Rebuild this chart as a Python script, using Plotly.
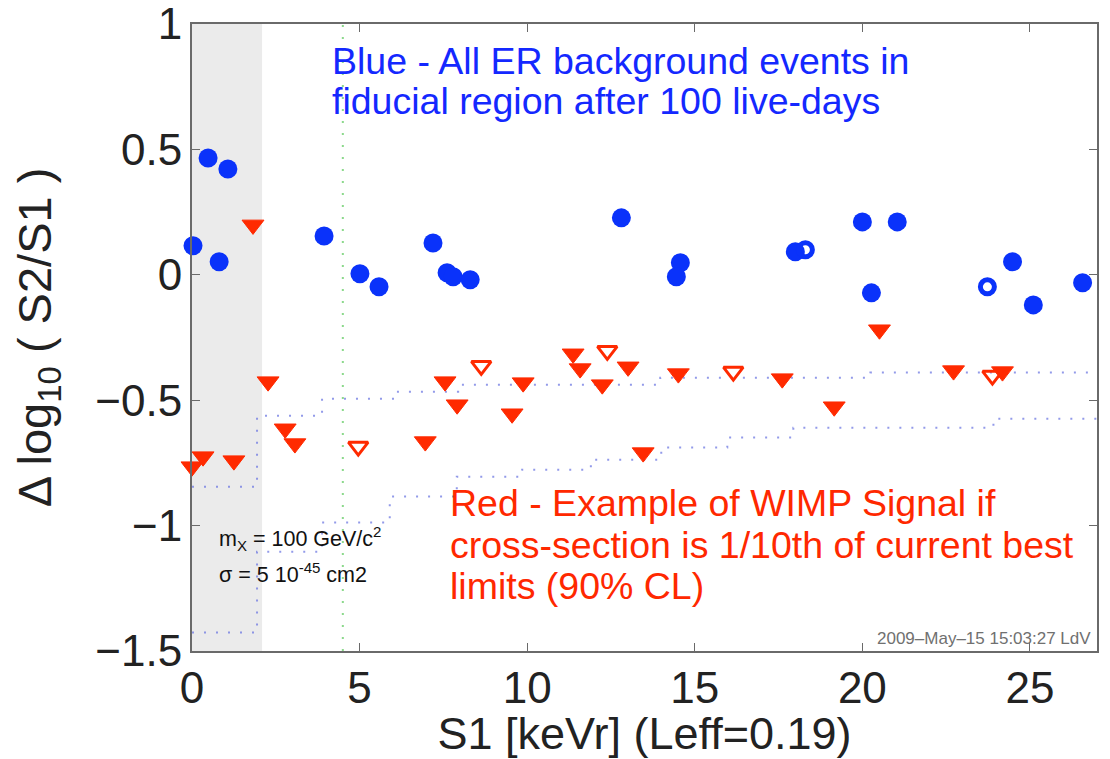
import plotly.graph_objects as go

# ---------------- data ----------------
# ER background events (filled blue circles)
er_x = [0.03, 0.48, 1.07, 0.81, 3.94, 5.01, 5.58, 7.19, 7.61, 7.79, 8.30,
        12.81, 14.57, 14.45, 18.0, 20.0, 21.04, 20.27, 24.48, 25.1, 26.57]
er_y = [0.116, 0.466, 0.422, 0.052, 0.155, 0.004, -0.048, 0.127, 0.008, -0.008, -0.02,
        0.227, 0.048, -0.008, 0.092, 0.211, 0.211, -0.072, 0.052, -0.12, -0.032]
# ER background events (open blue circles)
er_open_x = [18.3, 23.73]
er_open_y = [0.1, -0.048]

# WIMP signal example (filled red triangles)
wimp_x = [1.82, 2.27, 2.78, 3.07, 0.0, 0.33, 1.25, 6.96, 7.55, 7.91, 9.88, 9.55,
          11.37, 11.58, 12.24, 13.01, 13.46, 14.51, 17.61, 20.51, 19.16, 22.72, 24.18]
wimp_y = [0.199, -0.426, -0.614, -0.673, -0.765, -0.725, -0.741, -0.665, -0.426, -0.518,
          -0.430, -0.554, -0.315, -0.374, -0.438, -0.367, -0.709, -0.394, -0.414,
          -0.219, -0.526, -0.382, -0.386]
# WIMP signal example (open red triangles)
wimp_open_x = [4.96, 8.63, 12.39, 16.15, 23.88]
wimp_open_y = [-0.685, -0.363, -0.303, -0.386, -0.402]

# acceptance band edges (step functions)
upper_edges = [0, 1.94, 3.88, 6.06, 7.94, 13.97, 20.24, 27]
upper_levels = [-0.845, -0.562, -0.494, -0.466, -0.438, -0.41, -0.39]
lower_edges = [0, 1.94, 3.88, 5.9, 7.9, 9.85, 11.9, 14.0, 15.97, 17.94, 23.91, 27]
lower_levels = [-1.426, -1.104, -0.988, -0.884, -0.805, -0.777, -0.737, -0.689,
                -0.649, -0.61, -0.574]

threshold_x = 2.09      # shaded region below threshold
analysis_x = 4.5        # green dotted line

x_tickvals = [0, 5, 10, 15, 20, 25]
x_ticktext = ["0", "5", "10", "15", "20", "25"]
y_tickvals = [-1.5, -1, -0.5, 0, 0.5, 1]
y_ticktext = ["\u22121.5", "\u22121", "\u22120.5", "0", "0.5", "1"]

# ---------------- figure ----------------
FONT = "Liberation Sans, Arial, Helvetica, sans-serif"
BLUE = "#0a32fa"
RED = "#ff2a00"
BAND = "rgba(110,120,225,0.75)"

fig = go.Figure()

fig.add_trace(go.Scatter(x=upper_edges, y=upper_levels + [upper_levels[-1]],
                         mode="lines", line=dict(shape="hv", color=BAND, width=2, dash="2px,10px"),
                         hoverinfo="skip", showlegend=False))
fig.add_trace(go.Scatter(x=lower_edges, y=lower_levels + [lower_levels[-1]],
                         mode="lines", line=dict(shape="hv", color=BAND, width=2, dash="2px,10px"),
                         hoverinfo="skip", showlegend=False))
fig.add_trace(go.Scatter(x=[analysis_x, analysis_x], y=[-1.5, 1], mode="lines",
                         line=dict(color="rgba(120,210,120,0.85)", width=2, dash="2px,10px"),
                         hoverinfo="skip", showlegend=False))

fig.add_trace(go.Scatter(x=wimp_x, y=wimp_y, mode="markers", cliponaxis=False,
                         marker=dict(symbol="triangle-down", size=19, color=RED,
                                     line=dict(color=RED, width=1)),
                         showlegend=False))
fig.add_trace(go.Scatter(x=wimp_open_x, y=wimp_open_y, mode="markers", cliponaxis=False,
                         marker=dict(symbol="triangle-down-open", size=17, color=RED,
                                     line=dict(color=RED, width=3)),
                         showlegend=False))
fig.add_trace(go.Scatter(x=er_x, y=er_y, mode="markers", cliponaxis=False,
                         marker=dict(symbol="circle", size=19, color=BLUE, line=dict(width=0)),
                         showlegend=False))
fig.add_trace(go.Scatter(x=er_open_x, y=er_open_y, mode="markers", cliponaxis=False,
                         marker=dict(symbol="circle-open", size=14, color=BLUE,
                                     line=dict(color=BLUE, width=5)),
                         showlegend=False))

fig.add_shape(type="rect", xref="x", yref="y", x0=0, x1=threshold_x, y0=-1.5, y1=1,
              fillcolor="#ebebeb", line=dict(width=0), layer="below")

# text annotations
def note(x, y, text, color, size, xanchor="left"):
    fig.add_annotation(x=x, y=y, xref="x", yref="y", text=text, showarrow=False,
                       xanchor=xanchor, yanchor="middle",
                       font=dict(family=FONT, size=size, color=color))

note(4.12, 0.853, "Blue - All ER background events in", "#1428ff", 37.5)
note(4.12, 0.693, "fiducial region after 100 live-days", "#1428ff", 37.5)
note(7.65, -0.908, "Red - Example of WIMP Signal if", "#ff2800", 37.5)
note(7.65, -1.076, "cross-section is 1/10th of current best", "#ff2800", 37.5)
note(7.65, -1.239, "limits (90% CL)", "#ff2800", 37.5)
note(0.74, -1.05, "m<sub>X</sub> = 100 GeV/c<sup>2</sup>", "#111111", 21.5)
note(0.74, -1.19, "\u03c3 = 5 10<sup>-45</sup> cm2", "#111111", 21.5)
note(26.88, -1.45, "2009\u2013May\u201315 15:03:27 LdV", "#707070", 17, xanchor="right")

axis_common = dict(showline=True, linecolor="#6a6a6a", linewidth=2, mirror="ticks",
                   ticks="inside", ticklen=8, tickcolor="#6a6a6a", tickwidth=1,
                   showgrid=False, zeroline=False, ticklabeloverflow="allow",
                   tickfont=dict(family=FONT, size=44, color="#222222"))

fig.update_xaxes(range=[0, 27], tickvals=x_tickvals, ticktext=x_ticktext,
                 title=dict(text="S1 [keVr] (Leff=0.19)", standoff=14,
                            font=dict(family=FONT, size=45, color="#222222")),
                 ticklabelstandoff=-3, **axis_common)
fig.update_yaxes(range=[-1.5, 1], tickvals=y_tickvals, ticktext=y_ticktext,
                 title=dict(text="\u0394 log<sub>10</sub> ( S2/S1 )", standoff=32,
                            font=dict(family=FONT, size=47, color="#222222")),
                 ticklabelstandoff=-1, **axis_common)

# the page body adds an 8px margin; size the figure so the plot area lands in place
fig.update_layout(width=1094, height=751, autosize=False,
                  margin=dict(l=184, r=5, t=16, b=108, autoexpand=False),
                  paper_bgcolor="white", plot_bgcolor="white",
                  font=dict(family=FONT))

fig.write_html("out.html")
